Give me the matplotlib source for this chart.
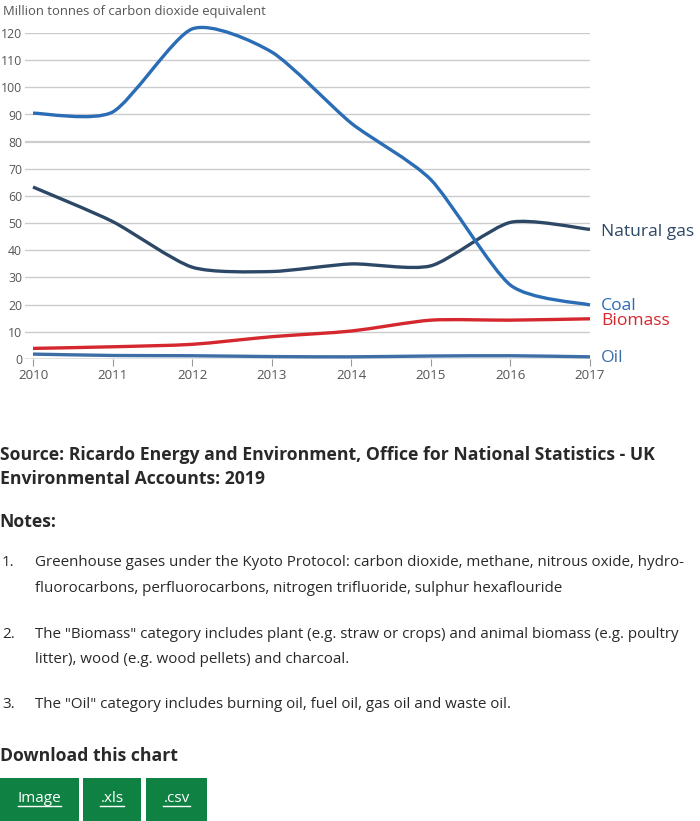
import numpy as np
import matplotlib
matplotlib.use("Agg")
import matplotlib.pyplot as plt
from matplotlib.patches import Rectangle
from matplotlib.path import Path
from matplotlib.patches import PathPatch

years = [2010, 2011, 2012, 2013, 2014, 2015, 2016, 2017]
coal = [90.5, 90.9, 121.5, 113.0, 86.8, 66.0, 27.2, 19.9]
natural_gas = [63.3, 50.6, 33.8, 32.2, 35.0, 34.3, 50.3, 47.7]
biomass = [3.9, 4.5, 5.4, 8.2, 10.3, 14.3, 14.3, 14.8]
oil = [1.8, 1.3, 1.2, 0.9, 0.8, 1.1, 1.2, 0.8]
series_names = ["Natural gas", "Coal", "Biomass", "Oil"]
y_ticks = [0, 10, 20, 30, 40, 50, 60, 70, 80, 90, 100, 110, 120]

colors = {"Coal": "#2a6db5", "Natural gas": "#2d4867", "Biomass": "#d4272e", "Oil": "#3e6ea6"}

W, H = 700, 821
fig = plt.figure(figsize=(W / 100, H / 100), dpi=100)
plt.rcParams['font.family'] = ['Open Sans', 'DejaVu Sans']


def px(x, y):
    return x / W, 1 - y / H


# axes: left 25px, right 590px, top (120) 33px, bottom (0) 359px
ax = fig.add_axes([25 / W, 1 - 359 / H, (590 - 25) / W, (359 - 33) / H])
x_left = 2010 - 8 / ((590 - 33) / 7)
ax.set_xlim(x_left, 2017)
ax.set_ylim(0, 120)


def cardinal_path(xs, ys, tension=0.3):
    """d3-style cardinal spline through the data points."""
    pts = np.column_stack([np.asarray(xs, float), np.asarray(ys, float)])
    n = len(pts)
    k = (1 - tension) / 6
    verts = [pts[0]]
    codes = [Path.MOVETO]
    for i in range(n - 1):
        p0 = pts[i - 1] if i > 0 else pts[i]
        p1 = pts[i]
        p2 = pts[i + 1]
        p3 = pts[i + 2] if i + 2 < n else pts[i + 1]
        c1 = p1 + k * (p2 - p0)
        c2 = p2 - k * (p3 - p1)
        verts += [c1, c2, p2]
        codes += [Path.CURVE4] * 3
    return Path(verts, codes)


for v in y_ticks:
    if v == 0:
        continue
    ax.axhline(v, color="#cccccc", lw=1.6 if v == 80 else 1.0, zorder=1)
ax.axhline(0, color="#666666", lw=1.0, zorder=1)

data = {"Natural gas": natural_gas, "Coal": coal, "Biomass": biomass, "Oil": oil}
for name in ["Oil", "Biomass", "Natural gas", "Coal"]:
    path = cardinal_path(years, data[name])
    patch = PathPatch(path, transform=ax.transData, facecolor="none", edgecolor=colors[name],
                      lw=2.4, capstyle="butt", zorder=3, clip_on=False)
    ax.add_patch(patch)

label_offsets = {"Natural gas": -1.0, "Coal": -0.3, "Biomass": -0.8, "Oil": -0.4}
for name in series_names:
    ax.text(2017 + 0.14, data[name][-1] + label_offsets[name], name, color=colors[name],
            fontsize=12.6, va="center", ha="left", clip_on=False)

for s in ax.spines.values():
    s.set_visible(False)
ax.set_xticks(years)
ax.set_xticklabels([str(y) for y in years])
ax.set_yticks(y_ticks)
ax.tick_params(axis="x", length=5, color="#999999", labelsize=9.6, labelcolor="#555555", pad=2)
ax.tick_params(axis="y", length=0, labelsize=8.8, labelcolor="#555555", pad=2)
ax.patch.set_alpha(0)

fig.text(*px(3, 12), "Million tonnes of carbon dioxide equivalent", fontsize=9.35,
         color="#555555", va="center", ha="left")

txt = "#2a292a"
fig.text(*px(0, 455), "Source: Ricardo Energy and Environment, Office for National Statistics - UK",
         fontsize=12.7, fontweight="bold", color=txt, va="center")
fig.text(*px(0, 479), "Environmental Accounts: 2019", fontsize=12.7, fontweight="bold", color=txt, va="center")
fig.text(*px(-1, 522), "Notes:", fontsize=12.7, fontweight="bold", color=txt, va="center")

notes = [
    ("1.", ["Greenhouse gases under the Kyoto Protocol: carbon dioxide, methane, nitrous oxide, hydro-",
            "fluorocarbons, perfluorocarbons, nitrogen trifluoride, sulphur hexaflouride"], 563),
    ("2.", ["The \"Biomass\" category includes plant (e.g. straw or crops) and animal biomass (e.g. poultry",
            "litter), wood (e.g. wood pellets) and charcoal."], 634),
    ("3.", ["The \"Oil\" category includes burning oil, fuel oil, gas oil and waste oil."], 704),
]
for num, lines, y0 in notes:
    fig.text(*px(2, y0), num, fontsize=10.9, color=txt, va="center")
    for k, line in enumerate(lines):
        fig.text(*px(35, y0 + 25 * k), line, fontsize=10.9, color=txt, va="center")

fig.text(*px(0, 756), "Download this chart", fontsize=12.7, fontweight="bold", color=txt, va="center")

buttons = [("Image", 0, 79), (".xls", 83, 141), (".csv", 146, 207)]
btn_texts = []
for label, x0, x1 in buttons:
    fig.add_artist(Rectangle((x0 / W, 0), (x1 - x0) / W, (821 - 778) / H,
                             transform=fig.transFigure, color="#0f8243", lw=0))
    btn_texts.append(fig.text(*px((x0 + x1) / 2, 798), label, fontsize=11.0, color="white",
                              ha="center", va="center"))

renderer = fig.canvas.get_renderer()
for t in btn_texts:
    bb = t.get_window_extent(renderer=renderer)
    fig.add_artist(plt.Line2D([bb.x0 / W, bb.x1 / W], [1 - 806 / H, 1 - 806 / H],
                              transform=fig.transFigure, color="white", lw=1))

fig.savefig("out.png", dpi=100, facecolor="white")
